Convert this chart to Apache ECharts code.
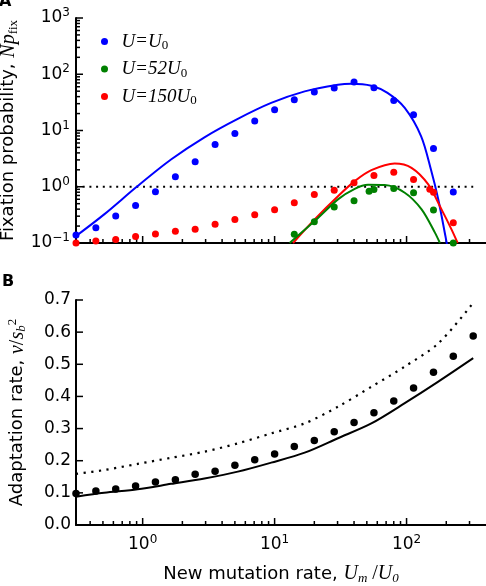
<!DOCTYPE html>
<html><head><meta charset="utf-8">
<script src="https://cdn.jsdelivr.net/npm/echarts@6/dist/echarts.min.js"></script>
<style>html,body{margin:0;padding:0;background:#fff}#c{width:486px;height:586px}</style>
</head><body><div id="c"></div>
<script>
// ---- axis ranges / ticks ----
const xMin = 0.3125, xMax = 400;
const yTopMin = 0.1, yTopMax = 1000;
const yBotMin = 0, yBotMax = 0.7;
const xTicksMajor = [1, 10, 100];
const xTicksMinor = [0.4,0.5,0.6,0.7,0.8,0.9,2,3,4,5,6,7,8,9,20,30,40,50,60,70,80,90,200,300];
const yTopMajor = [0.1, 1, 10, 100, 1000];
const yTopMinor = [0.2,0.3,0.4,0.5,0.6,0.7,0.8,0.9,2,3,4,5,6,7,8,9,20,30,40,50,60,70,80,90,200,300,400,500,600,700,800,900];
const yBotTicks = [0, 0.1, 0.2, 0.3, 0.4, 0.5, 0.6, 0.7];

// ---- panel A: simulation points ----
const blueX = [0.3125,0.442,0.625,0.884,1.25,1.77,2.5,3.54,5,7.07,10,14.1,20,28.3,40,56.6,80,113,160,226];
const blueY = [0.139,0.187,0.301,0.466,0.815,1.50,2.77,5.62,8.81,14.8,23.5,35.3,48.3,56.9,72.7,57.6,34.3,19.1,4.78,0.81];
const greenX = [14.1,20,28.3,40,52,56.6,80,113,160,226];
const greenY = [0.143,0.239,0.435,0.565,0.836,0.895,0.93,0.78,0.385,0.1];
const redX = [0.3125,0.442,0.625,0.884,1.25,1.77,2.5,3.54,5,7.07,10,14.1,20,28.3,40,56.6,80,113,150,160,226];
const redY = [0.1,0.109,0.115,0.130,0.144,0.161,0.175,0.215,0.263,0.318,0.39,0.52,0.73,0.87,1.18,1.58,1.81,1.35,0.90,0.80,0.23];

// ---- panel A: theory curves ----
const blueCurveX = [0.3125,0.511,0.916,1.64,2.94,5.26,9.42,16.9,30.2,38.2,54.1,71.7,96.9,129,153,174,197,201,210];
const blueCurveY = [0.133,0.323,1.03,3.05,7.57,16.1,30.9,49.6,65.1,67.9,62.5,46.5,25.2,7.89,2.03,0.595,0.133,0.103,0.06];
const redCurveX = [13.8,20.1,30.2,40.5,54.1,81.3,109,146,184,219,244];
const redCurveY = [0.1,0.263,0.68,1.26,1.97,2.59,2.17,1.10,0.396,0.175,0.1];
const greenCurveX = [13.0,20.1,30.2,40.5,51.1,68.3,96.9,130,164,179];
const greenCurveY = [0.1,0.245,0.596,0.92,1.08,1.07,0.783,0.396,0.153,0.1];
const refLineX = [0.3125, 320];
const refLineY = [1, 1];

// ---- panel B ----
const simX = [0.3125,0.442,0.625,0.884,1.25,1.77,2.5,3.54,5,7.07,10,14.1,20,28.3,40,56.6,80,113,160,226,320];
const simY = [0.098,0.106,0.112,0.121,0.134,0.141,0.158,0.167,0.186,0.203,0.221,0.244,0.263,0.290,0.319,0.349,0.386,0.426,0.475,0.525,0.588];
const solidX = [0.3125,0.511,0.916,1.64,2.94,5.26,9.42,16.9,30.2,54.1,96.9,174,320];
const solidY = [0.088,0.100,0.111,0.128,0.145,0.166,0.194,0.225,0.270,0.316,0.379,0.446,0.519];
const dottedX = [0.3125,0.511,0.916,1.64,2.94,5.26,9.42,16.9,30.2,54.1,96.9,174,310];
const dottedY = [0.159,0.171,0.190,0.209,0.228,0.254,0.285,0.316,0.368,0.430,0.493,0.565,0.684];

const zip = (a, b) => a.map((v, i) => [v, b[i]]);

const SANS = 'DejaVu Sans';
const SERIF = 'Liberation Serif';
const tickRich = {
  b: {fontFamily: SANS, fontSize: 17, color: '#000'},
  e: {fontFamily: SANS, fontSize: 12, color: '#000', padding: [0, 0, 10, 0]}
};
const powLabel = v => {
  const e = Math.round(Math.log10(v));
  return '{b|10}{e|' + (e < 0 ? '\u2212' + (-e) : e) + '}';
};
const axLine = () => ({show: true, onZero: false, lineStyle: {color: '#000', width: 2}});

// inward tick marks, positioned through the axes' own scales
function tickSeries(xi, yi, values, fixed, dir, len) {
  return {
    type: 'custom', xAxisIndex: xi, yAxisIndex: yi,
    data: values.map(v => dir === 'x' ? [v, fixed] : [fixed, v]),
    renderItem: (params, api) => {
      const c = api.coord([api.value(0), api.value(1)]);
      const shape = dir === 'x'
        ? {x: c[0] - 0.75, y: c[1] - len, width: 1.5, height: len}
        : {x: c[0], y: c[1] - 0.75, width: len, height: 1.5};
      return {type: 'rect', shape, style: {fill: '#000'}};
    }
  };
}

const chart = echarts.init(document.getElementById('c'));
chart.setOption({
  animation: false,
  backgroundColor: '#fff',
  title: [
    {text: 'A', left: -1, top: -6, padding: 0, textStyle: {fontFamily: SANS, fontSize: 16, fontWeight: 'bold', color: '#000'}},
    {text: 'B', left: 2, top: 274, padding: 0, textStyle: {fontFamily: SANS, fontSize: 16, fontWeight: 'bold', color: '#000'}}
  ],
  grid: [
    {left: 76, right: 0, top: 18, height: 225, outerBoundsMode: 'none', containLabel: false},
    {left: 76, right: 0, top: 300, height: 225, outerBoundsMode: 'none', containLabel: false}
  ],
  legend: {
    orient: 'vertical', left: 96, top: 27, itemWidth: 24, itemHeight: 7, itemGap: 7,
    icon: 'circle',
    data: ['U=U0', 'U=52U0', 'U=150U0'],
    formatter: n => ({
      'U=U0': '{i|U}{q|=}{i|U}{s|0}',
      'U=52U0': '{i|U}{q|=}{r|52}{i|U}{s|0}',
      'U=150U0': '{i|U}{q|=}{r|150}{i|U}{s|0}'
    })[n],
    textStyle: {
      rich: {
        i: {fontFamily: SERIF, fontStyle: 'italic', fontSize: 19, color: '#000'},
        q: {fontFamily: SERIF, fontSize: 19, color: '#000', padding: [0, 1, 0, 1]},
        r: {fontFamily: SERIF, fontStyle: 'italic', fontSize: 19, color: '#000'},
        s: {fontFamily: SERIF, fontSize: 13, color: '#000', padding: [9, 0, 0, 0]}
      }
    }
  },
  xAxis: [
    {gridIndex: 0, type: 'log', logBase: 10, min: xMin, max: xMax, position: 'bottom',
     axisLine: axLine(), axisTick: {show: false}, axisLabel: {show: false}, splitLine: {show: false}},
    {gridIndex: 1, type: 'log', logBase: 10, min: xMin, max: xMax, position: 'bottom',
     axisLine: axLine(), axisTick: {show: false},
     axisLabel: {show: true, margin: 9, customValues: xTicksMajor, formatter: powLabel, rich: tickRich},
     splitLine: {show: false},
     name: '{t|New mutation rate, }{m|U}{s|m}{r| /}{m|U}{s|0}', nameLocation: 'middle', nameGap: 38,
     nameTextStyle: {rich: {
       t: {fontFamily: SANS, fontSize: 18, color: '#000'},
       m: {fontFamily: SERIF, fontStyle: 'italic', fontSize: 20, color: '#000'},
       r: {fontFamily: SERIF, fontSize: 20, color: '#000'},
       s: {fontFamily: SERIF, fontStyle: 'italic', fontSize: 13, color: '#000', padding: [9, 0, 0, 0]}
     }}}
  ],
  yAxis: [
    {gridIndex: 0, type: 'log', logBase: 10, min: yTopMin, max: yTopMax, position: 'left',
     axisLine: axLine(), axisTick: {show: false},
     axisLabel: {show: true, margin: 6, customValues: yTopMajor, formatter: powLabel, rich: tickRich},
     splitLine: {show: false},
     name: '{t|Fixation probability, }{m|Np}{f|fix}', nameLocation: 'middle', nameRotate: 90, nameGap: 47,
     nameTextStyle: {rich: {
       t: {fontFamily: SANS, fontSize: 18, color: '#000'},
       m: {fontFamily: SERIF, fontStyle: 'italic', fontSize: 20, color: '#000'},
       f: {fontFamily: SERIF, fontSize: 13, color: '#000', padding: [9, 0, 0, 0]}
     }}},
    {gridIndex: 1, type: 'value', min: yBotMin, max: yBotMax, interval: 0.1, position: 'left',
     axisLine: axLine(), axisTick: {show: false},
     axisLabel: {show: true, margin: 5, fontFamily: SANS, fontSize: 17, color: '#000', formatter: v => v.toFixed(1)},
     splitLine: {show: false},
     name: '{t|Adaptation rate, }{m|v}{r|/}{m|s}{sb|b}{sp|2}', nameLocation: 'middle', nameRotate: 90, nameGap: 47,
     nameTextStyle: {rich: {
       t: {fontFamily: SANS, fontSize: 18, color: '#000'},
       m: {fontFamily: SERIF, fontStyle: 'italic', fontSize: 20, color: '#000'},
       r: {fontFamily: SERIF, fontSize: 20, color: '#000'},
       sb: {fontFamily: SERIF, fontStyle: 'italic', fontSize: 13, color: '#000', padding: [9, 0, 0, 0]},
       sp: {fontFamily: SERIF, fontSize: 13, color: '#000', padding: [0, 0, 10, 0]}
     }}}
  ],
  series: [
    {type: 'line', name: 'blueCurve', xAxisIndex: 0, yAxisIndex: 0, data: zip(blueCurveX, blueCurveY),
     showSymbol: false, smooth: 0.3, lineStyle: {color: '#0000ff', width: 2}, z: 2},
    {type: 'line', name: 'redCurve', xAxisIndex: 0, yAxisIndex: 0, data: zip(redCurveX, redCurveY),
     showSymbol: false, smooth: 0.3, lineStyle: {color: '#ff0000', width: 2}, z: 2},
    {type: 'line', name: 'greenCurve', xAxisIndex: 0, yAxisIndex: 0, data: zip(greenCurveX, greenCurveY),
     showSymbol: false, smooth: 0.3, lineStyle: {color: '#008000', width: 2}, z: 2},
    {type: 'line', name: 'ref', xAxisIndex: 0, yAxisIndex: 0, data: zip(refLineX, refLineY),
     showSymbol: false, lineStyle: {color: '#000', width: 2, type: [2, 4.7]}, z: 1},
    {type: 'scatter', name: 'U=U0', xAxisIndex: 0, yAxisIndex: 0, data: zip(blueX, blueY),
     symbolSize: 7, itemStyle: {color: '#0000ff', opacity: 1}, z: 3},
    {type: 'scatter', name: 'U=52U0', xAxisIndex: 0, yAxisIndex: 0, data: zip(greenX, greenY),
     symbolSize: 7, itemStyle: {color: '#008000', opacity: 1}, z: 3},
    {type: 'scatter', name: 'U=150U0', xAxisIndex: 0, yAxisIndex: 0, data: zip(redX, redY),
     symbolSize: 7, itemStyle: {color: '#ff0000', opacity: 1}, z: 3},
    {type: 'line', name: 'solid', xAxisIndex: 1, yAxisIndex: 1, data: zip(solidX, solidY),
     showSymbol: false, smooth: 0.3, lineStyle: {color: '#000', width: 2}},
    {type: 'line', name: 'dotted', xAxisIndex: 1, yAxisIndex: 1, data: zip(dottedX, dottedY),
     showSymbol: false, smooth: 0.3, lineStyle: {color: '#000', width: 2.2, type: [2.2, 5.5]}},
    {type: 'scatter', name: 'sim', xAxisIndex: 1, yAxisIndex: 1, data: zip(simX, simY),
     symbolSize: 7.5, itemStyle: {color: '#000', opacity: 1}},
    tickSeries(0, 0, xTicksMajor, yTopMin, 'x', 7),
    tickSeries(0, 0, xTicksMinor, yTopMin, 'x', 4),
    tickSeries(0, 0, yTopMajor, xMin, 'y', 7),
    tickSeries(0, 0, yTopMinor, xMin, 'y', 4),
    tickSeries(1, 1, xTicksMajor, yBotMin, 'x', 7),
    tickSeries(1, 1, xTicksMinor, yBotMin, 'x', 4),
    tickSeries(1, 1, yBotTicks, xMin, 'y', 7)
  ]
});
</script>
</body></html>
